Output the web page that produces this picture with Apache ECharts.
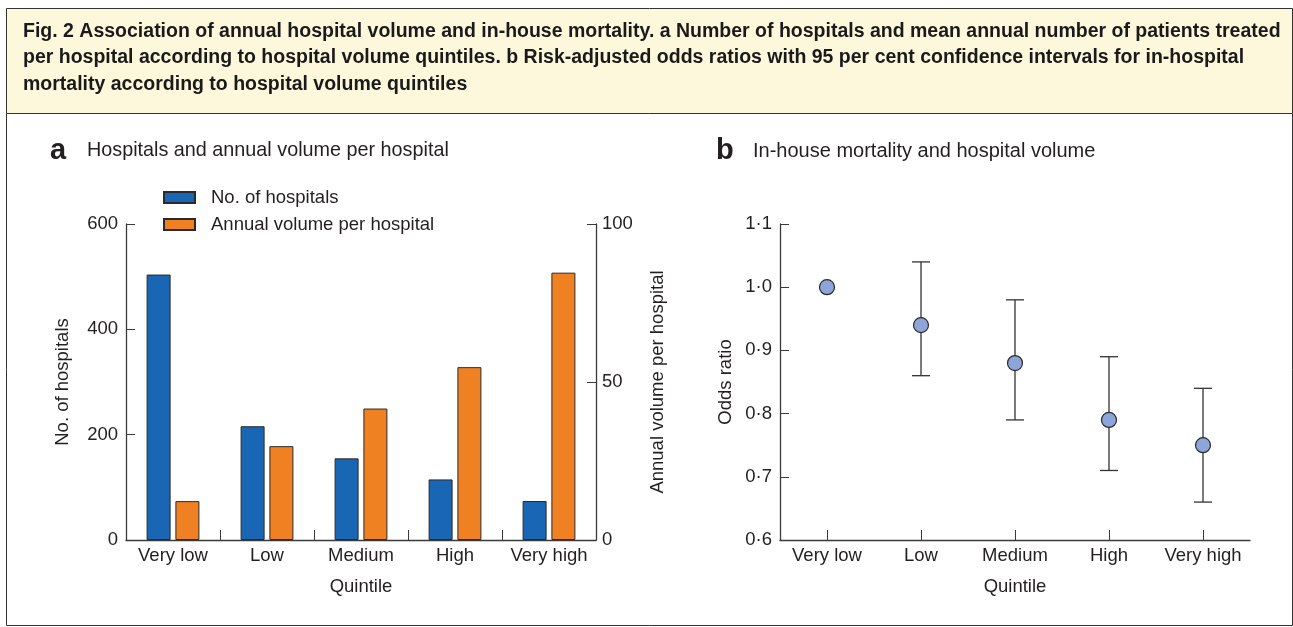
<!DOCTYPE html>
<html>
<head>
<meta charset="utf-8">
<script src="https://cdn.jsdelivr.net/npm/echarts@6/dist/echarts.min.js"></script>
<style>
html,body{margin:0;padding:0;background:#fff;}
#main{width:1293px;height:627px;}
</style>
</head>
<body>
<div id="main"></div>
<script>
// ---- data ----
const categories = ['Very low', 'Low', 'Medium', 'High', 'Very high'];
const hospitalCounts = [504, 216, 155, 115, 74];
const annualVolume = [12.3, 29.7, 41.6, 54.7, 84.6];
const oddsRatio = [1.0, 0.94, 0.88, 0.79, 0.75];
const ciLower = [null, 0.86, 0.79, 0.71, 0.66];
const ciUpper = [null, 1.04, 0.98, 0.89, 0.84];
const leftTicks = [0, 200, 400, 600];
const rightTicks = [0, 50, 100];
const orTicks = ['0·6', '0·7', '0·8', '0·9', '1·0', '1·1'];
const captionLines = [
  'Fig. 2 Association of annual hospital volume and in-house mortality. a Number of hospitals and mean annual number of patients treated',
  'per hospital according to hospital volume quintiles. b Risk-adjusted odds ratios with 95 per cent confidence intervals for in-hospital',
  'mortality according to hospital volume quintiles'
];

const FONT = "'Liberation Sans', Arial, Helvetica, sans-serif";
const TXT = '#231f20';
const AX = '#3a3a3a';
const FS = 18.5;

const chart = echarts.init(document.getElementById('main'), null, {renderer: 'canvas'});

const ciData = [];
categories.forEach((c, i) => {
  if (ciLower[i] != null) ciData.push([i, ciLower[i], ciUpper[i]]);
});

const axisCommon = {
  axisLine: {show: true, lineStyle: {color: AX, width: 1.3}},
  axisLabel: {color: TXT, fontFamily: FONT, fontSize: FS},
  nameTextStyle: {color: TXT, fontFamily: FONT, fontSize: FS},
  splitLine: {show: false}
};

const graphics = [
  {type: 'rect', shape: {x: 6.5, y: 8.5, width: 1286, height: 105}, style: {fill: '#fdf8dc', stroke: '#333', lineWidth: 1}, z: 0},
  {type: 'rect', shape: {x: 6.5, y: 113.5, width: 1286, height: 512}, style: {fill: '#fff', stroke: '#333', lineWidth: 1}, z: 0},
  {type: 'text', x: 50, y: 151, style: {text: 'a', font: "bold 29px " + FONT, fill: TXT, verticalAlign: 'middle'}, z: 10},
  {type: 'text', x: 87, y: 151, style: {text: 'Hospitals and annual volume per hospital', font: "19.8px " + FONT, fill: TXT, verticalAlign: 'middle'}, z: 10},
  {type: 'text', x: 716, y: 151, style: {text: 'b', font: "bold 29px " + FONT, fill: TXT, verticalAlign: 'middle'}, z: 10},
  {type: 'text', x: 753, y: 151, style: {text: 'In-house mortality and hospital volume', font: "20px " + FONT, fill: TXT, verticalAlign: 'middle'}, z: 10}
];
const lineY = [32, 58, 85];
captionLines.forEach((t, i) => {
  graphics.push({type: 'text', x: 23, y: lineY[i], style: {text: t, font: "bold 19.5px " + FONT, fill: '#1a1a1a', verticalAlign: 'middle'}, z: 10});
});

const option = {
  animation: false,
  backgroundColor: '#fff',
  textStyle: {fontFamily: FONT},
  graphic: graphics,
  legend: {
    left: 163, top: 188, orient: 'vertical', itemWidth: 31, itemHeight: 11, itemGap: 8, padding: 0,
    icon: 'rect',
    textStyle: {color: TXT, fontFamily: FONT, fontSize: FS, lineHeight: 18, padding: [0, 0, 0, 11]},
    data: ['No. of hospitals', 'Annual volume per hospital']
  },
  grid: [
    {left: 126, top: 224, width: 470, height: 316},
    {left: 780, top: 224, width: 470, height: 316}
  ],
  xAxis: [
    Object.assign({}, axisCommon, {
      gridIndex: 0, type: 'category', data: categories, boundaryGap: true,
      name: 'Quintile', nameLocation: 'middle', nameGap: 37,
      axisTick: {show: true, inside: true, length: 10, interval: 0, lineStyle: {color: AX}},
      axisLabel: Object.assign({}, axisCommon.axisLabel, {margin: 6, interval: 0})
    }),
    Object.assign({}, axisCommon, {
      gridIndex: 1, type: 'category', data: categories, boundaryGap: true,
      name: 'Quintile', nameLocation: 'middle', nameGap: 37,
      axisTick: {show: true, inside: true, length: 10, interval: 0, alignWithLabel: true, lineStyle: {color: AX}},
      axisLabel: Object.assign({}, axisCommon.axisLabel, {margin: 6, interval: 0})
    })
  ],
  yAxis: [
    Object.assign({}, axisCommon, {
      gridIndex: 0, type: 'value', min: leftTicks[0], max: leftTicks[leftTicks.length - 1], interval: 200,
      name: 'No. of hospitals', nameLocation: 'middle', nameGap: 54, nameRotate: 90,
      axisTick: {show: true, inside: true, length: 9, lineStyle: {color: AX}},
      axisLabel: Object.assign({}, axisCommon.axisLabel, {margin: 8})
    }),
    Object.assign({}, axisCommon, {
      gridIndex: 0, type: 'value', position: 'right', min: rightTicks[0], max: rightTicks[rightTicks.length - 1], interval: 50,
      name: 'Annual volume per hospital', nameLocation: 'middle', nameGap: 52, nameRotate: 90,
      axisTick: {show: true, inside: true, length: 9, lineStyle: {color: AX}},
      axisLabel: Object.assign({}, axisCommon.axisLabel, {margin: 6})
    }),
    Object.assign({}, axisCommon, {
      gridIndex: 1, type: 'value', min: 0.6, max: 1.1, interval: 0.1,
      name: 'Odds ratio', nameLocation: 'middle', nameGap: 45, nameRotate: 90,
      axisTick: {show: true, inside: true, length: 9, lineStyle: {color: AX}},
      axisLabel: Object.assign({}, axisCommon.axisLabel, {
        margin: 8,
        formatter: function (v) { return orTicks[Math.round((v - 0.6) * 10)]; }
      })
    })
  ],
  series: [
    {
      name: 'No. of hospitals', type: 'bar', xAxisIndex: 0, yAxisIndex: 0,
      data: hospitalCounts, barWidth: 24, barGap: '20%',
      itemStyle: {color: '#1866b4', borderColor: '#2a2a2a', borderWidth: 1}
    },
    {
      name: 'Annual volume per hospital', type: 'bar', xAxisIndex: 0, yAxisIndex: 1,
      data: annualVolume, barWidth: 24, barGap: '20%',
      itemStyle: {color: '#f08122', borderColor: '#2a2a2a', borderWidth: 1}
    },
    {
      type: 'custom', xAxisIndex: 1, yAxisIndex: 2, data: ciData, z: 2,
      renderItem: function (params, api) {
        const x = api.value(0);
        const top = api.coord([x, api.value(2)]);
        const bot = api.coord([x, api.value(1)]);
        const hw = 9;
        const st = {stroke: '#333', lineWidth: 1.3};
        return {
          type: 'group',
          children: [
            {type: 'line', shape: {x1: top[0], y1: top[1], x2: bot[0], y2: bot[1]}, style: st},
            {type: 'line', shape: {x1: top[0] - hw, y1: top[1], x2: top[0] + hw, y2: top[1]}, style: st},
            {type: 'line', shape: {x1: bot[0] - hw, y1: bot[1], x2: bot[0] + hw, y2: bot[1]}, style: st}
          ]
        };
      }
    },
    {
      type: 'scatter', xAxisIndex: 1, yAxisIndex: 2, data: oddsRatio, z: 5,
      symbol: 'circle', symbolSize: 15,
      itemStyle: {color: '#8ea5d9', borderColor: '#2a2a2a', borderWidth: 1.2, opacity: 1}
    }
  ]
};
chart.setOption(option);
</script>
</body>
</html>
